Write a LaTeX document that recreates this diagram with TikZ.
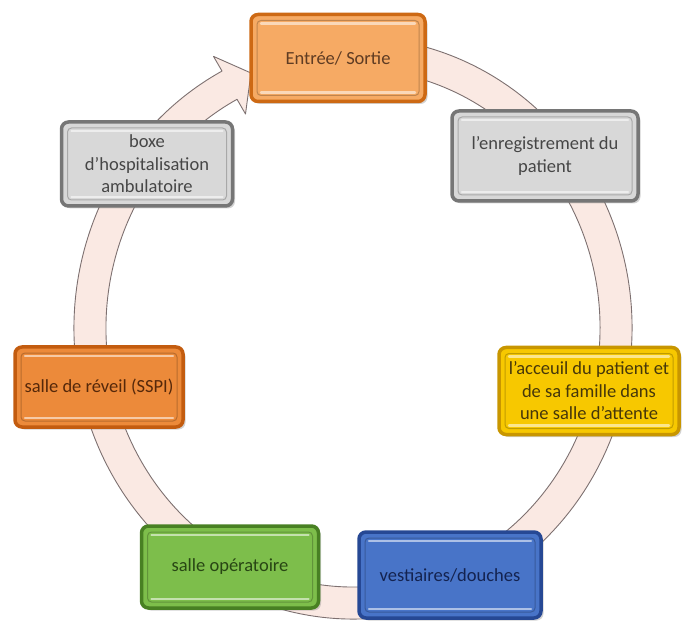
\documentclass[tikz,border=0pt]{standalone}
\usepackage{fontspec}
\setmainfont{Carlito}
\usepackage{xcolor}
\usepackage{tikz}
\usetikzlibrary{calc,shadows}

\definecolor{bandFill}{RGB}{250,233,227}
\definecolor{bandLine}{RGB}{125,112,112}
\definecolor{orFill}{RGB}{246,170,100}
\definecolor{orLine}{RGB}{205,105,20}
\definecolor{orText}{RGB}{95,60,35}
\definecolor{rvFill}{RGB}{236,138,58}
\definecolor{rvLine}{RGB}{195,92,15}
\definecolor{rvText}{RGB}{85,40,10}
\definecolor{grFill}{RGB}{216,216,216}
\definecolor{grLine}{RGB}{118,118,118}
\definecolor{grText}{RGB}{70,70,70}
\definecolor{yeFill}{RGB}{247,200,0}
\definecolor{yeLine}{RGB}{200,150,0}
\definecolor{yeText}{RGB}{70,55,10}
\definecolor{gnFill}{RGB}{125,190,75}
\definecolor{gnLine}{RGB}{72,128,35}
\definecolor{gnText}{RGB}{40,70,20}
\definecolor{blFill}{RGB}{72,116,200}
\definecolor{blLine}{RGB}{38,72,148}
\definecolor{blText}{RGB}{20,35,80}

\begin{document}
\begin{tikzpicture}[
  x=1pt, y=1pt,
  box/.style={rounded corners=7pt, line width=3.5pt, align=center,
              font=\fontsize{18.5}{22.5}\selectfont,
              drop shadow={shadow xshift=2.5pt, shadow yshift=-2.5pt, opacity=0.35},
              path picture={
                \draw[black, opacity=0.22, line width=1pt, rounded corners=4pt]
                  ([shift={(6pt,6pt)}]path picture bounding box.south west) rectangle
                  ([shift={(-6pt,-6pt)}]path picture bounding box.north east);
                \draw[white, opacity=0.55, line width=2.5pt, line cap=round]
                  ([shift={(10pt,-9pt)}]path picture bounding box.north west) --
                  ([shift={(-10pt,-9pt)}]path picture bounding box.north east);
                \draw[white, opacity=0.55, line width=2.5pt, line cap=round]
                  ([shift={(10pt,9pt)}]path picture bounding box.south west) --
                  ([shift={(-10pt,9pt)}]path picture bounding box.south east);
              }},
  band/.style={fill=bandFill, draw=bandLine, line width=0.9pt, line join=round}
]
\useasboundingbox (0,0) rectangle (686,625);

% circular arrow
\coordinate (c) at (353,297);
\filldraw[band] ($(c)+(75:279pt and 291pt)$)
  arc[start angle=75, end angle=-242, x radius=279pt, y radius=291pt]
  -- (213.5,568.6) -- (251,552) -- (245.5,511)
  -- ($(c)+(118:247pt and 259pt)$)
  arc[start angle=118, end angle=435, x radius=247pt, y radius=259pt] -- cycle;

% steps
\node[box, fill=orFill, draw=orLine, text=orText, minimum width=174, minimum height=87]
  (entree) at (338,567) {Entrée/ Sortie};
\node[box, fill=grFill, draw=grLine, text=grText, minimum width=186, minimum height=90]
  (enreg) at (545,469) {l'enregistrement du\\patient};
\node[box, fill=yeFill, draw=yeLine, text=yeText, minimum width=180, minimum height=87]
  (accueil) at (589,234) {l'acceuil du patient et\\de sa famille dans\\une salle d'attente};
\node[box, fill=blFill, draw=blLine, text=blText, minimum width=182, minimum height=86]
  (vestiaire) at (450,50) {vestiaires/douches};
\node[box, fill=gnFill, draw=gnLine, text=gnText, minimum width=177, minimum height=82]
  (operatoire) at (230,58) {salle opératoire};
\node[box, fill=rvFill, draw=rvLine, text=rvText, minimum width=168, minimum height=80]
  (reveil) at (99,238) {salle de réveil (SSPI)};
\node[box, fill=grFill, draw=grLine, text=grText, minimum width=171, minimum height=84]
  (boxe) at (147,461) {boxe\\d'hospitalisation\\ambulatoire};
\end{tikzpicture}
\end{document}
